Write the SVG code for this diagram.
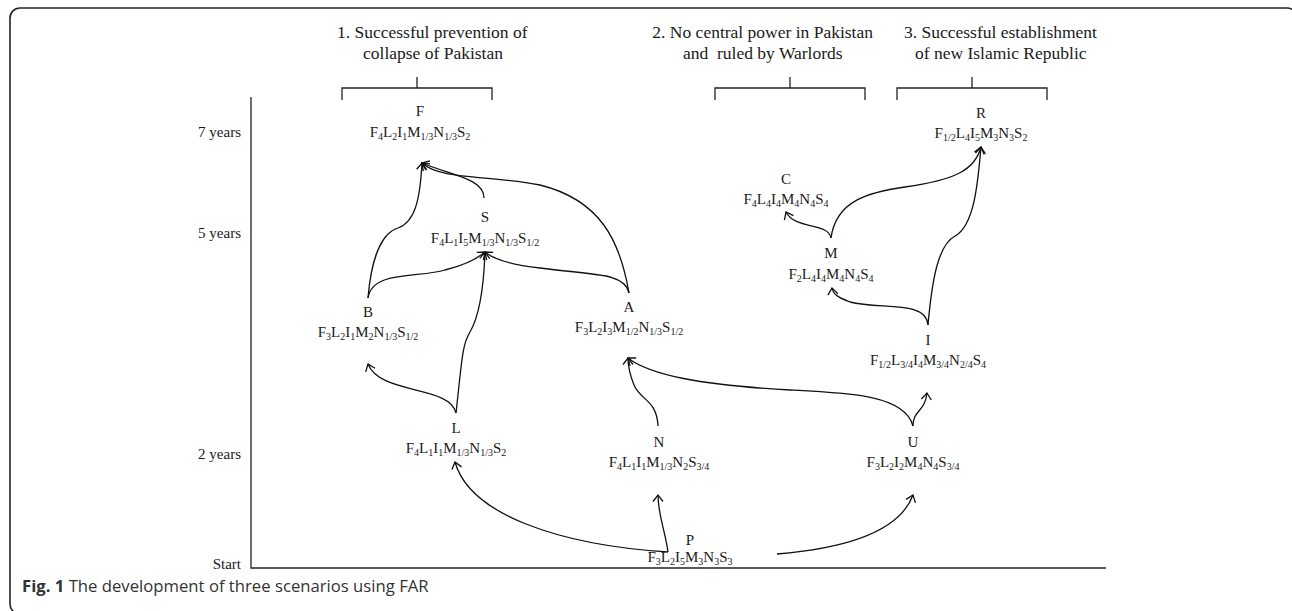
<svg xmlns="http://www.w3.org/2000/svg" width="1292" height="611" viewBox="0 0 1292 611">
<defs>
<marker id="ah" markerUnits="userSpaceOnUse" markerWidth="14" markerHeight="14" refX="0" refY="0" viewBox="-8 -7 10 14" orient="auto">
<path d="M -6.5 -5 L 0 0 L -6.5 5" fill="none" stroke="#111" stroke-width="1.3"/>
</marker>
</defs>
<style>
.h,.y,.n,.f{font-family:"Liberation Serif","Times New Roman",serif;fill:#1a1a1a;}
.h{font-size:17.5px;}
.y{font-size:15px;text-anchor:end;}
.n{font-size:15px;text-anchor:middle;}
.f{font-size:15px;text-anchor:middle;}
.s{font-size:10px;}
.br{fill:none;stroke:#222;stroke-width:1.3;}
.c{fill:none;stroke:#111;stroke-width:1.3;marker-end:url(#ah);}
.cap{font-family:"Open Sans","Noto Sans",sans-serif;font-size:16.7px;fill:#333;}
</style>
<rect x="10" y="8" width="1287" height="606" rx="10" fill="none" stroke="#222" stroke-width="1.6"/>
<g id="axes" class="br">
<path d="M251 97 V568 H1106"/>
</g>
<g id="headers">
<text class="h" x="337" y="38">1. Successful prevention of</text>
<text class="h" x="363" y="59">collapse of Pakistan</text>
<path class="br" d="M342 100 V88 H492 V100 M417 77 V88"/>
<text class="h" x="873" y="38" text-anchor="end">2. No central power in Pakistan</text>
<text class="h" x="683" y="59">and&#160; ruled by Warlords</text>
<path class="br" d="M715 100 V88 H865 V100 M790 77 V88"/>
<text class="h" x="904" y="38">3. Successful establishment</text>
<text class="h" x="915" y="59">of new Islamic Republic</text>
<path class="br" d="M897 100 V88 H1047 V100 M972 77 V88"/>
</g>
<g id="ylabels">
<text class="y" x="241" y="137">7 years</text>
<text class="y" x="241" y="238">5 years</text>
<text class="y" x="241" y="459">2 years</text>
<text class="y" x="241" y="569">Start</text>
</g>
<g id="node-F"><text class="n" x="420" y="116">F</text><text class="f" x="420" y="137">F<tspan class="s" dy="3">4</tspan><tspan dy="-3">L</tspan><tspan class="s" dy="3">2</tspan><tspan dy="-3">I</tspan><tspan class="s" dy="3">1</tspan><tspan dy="-3">M</tspan><tspan class="s" dy="3">1/3</tspan><tspan dy="-3">N</tspan><tspan class="s" dy="3">1/3</tspan><tspan dy="-3">S</tspan><tspan class="s" dy="3">2</tspan></text></g>
<g id="node-S"><text class="n" x="485" y="222">S</text><text class="f" x="485" y="243">F<tspan class="s" dy="3">4</tspan><tspan dy="-3">L</tspan><tspan class="s" dy="3">1</tspan><tspan dy="-3">I</tspan><tspan class="s" dy="3">5</tspan><tspan dy="-3">M</tspan><tspan class="s" dy="3">1/3</tspan><tspan dy="-3">N</tspan><tspan class="s" dy="3">1/3</tspan><tspan dy="-3">S</tspan><tspan class="s" dy="3">1/2</tspan></text></g>
<g id="node-B"><text class="n" x="368" y="317">B</text><text class="f" x="368" y="337">F<tspan class="s" dy="3">3</tspan><tspan dy="-3">L</tspan><tspan class="s" dy="3">2</tspan><tspan dy="-3">I</tspan><tspan class="s" dy="3">1</tspan><tspan dy="-3">M</tspan><tspan class="s" dy="3">2</tspan><tspan dy="-3">N</tspan><tspan class="s" dy="3">1/3</tspan><tspan dy="-3">S</tspan><tspan class="s" dy="3">1/2</tspan></text></g>
<g id="node-A"><text class="n" x="629" y="312">A</text><text class="f" x="629" y="332">F<tspan class="s" dy="3">3</tspan><tspan dy="-3">L</tspan><tspan class="s" dy="3">2</tspan><tspan dy="-3">I</tspan><tspan class="s" dy="3">3</tspan><tspan dy="-3">M</tspan><tspan class="s" dy="3">1/2</tspan><tspan dy="-3">N</tspan><tspan class="s" dy="3">1/3</tspan><tspan dy="-3">S</tspan><tspan class="s" dy="3">1/2</tspan></text></g>
<g id="node-L"><text class="n" x="456" y="433">L</text><text class="f" x="456" y="453">F<tspan class="s" dy="3">4</tspan><tspan dy="-3">L</tspan><tspan class="s" dy="3">1</tspan><tspan dy="-3">I</tspan><tspan class="s" dy="3">1</tspan><tspan dy="-3">M</tspan><tspan class="s" dy="3">1/3</tspan><tspan dy="-3">N</tspan><tspan class="s" dy="3">1/3</tspan><tspan dy="-3">S</tspan><tspan class="s" dy="3">2</tspan></text></g>
<g id="node-N"><text class="n" x="659" y="447">N</text><text class="f" x="659" y="467">F<tspan class="s" dy="3">4</tspan><tspan dy="-3">L</tspan><tspan class="s" dy="3">1</tspan><tspan dy="-3">I</tspan><tspan class="s" dy="3">1</tspan><tspan dy="-3">M</tspan><tspan class="s" dy="3">1/3</tspan><tspan dy="-3">N</tspan><tspan class="s" dy="3">2</tspan><tspan dy="-3">S</tspan><tspan class="s" dy="3">3/4</tspan></text></g>
<g id="node-U"><text class="n" x="913" y="447">U</text><text class="f" x="913" y="467">F<tspan class="s" dy="3">3</tspan><tspan dy="-3">L</tspan><tspan class="s" dy="3">2</tspan><tspan dy="-3">I</tspan><tspan class="s" dy="3">2</tspan><tspan dy="-3">M</tspan><tspan class="s" dy="3">4</tspan><tspan dy="-3">N</tspan><tspan class="s" dy="3">4</tspan><tspan dy="-3">S</tspan><tspan class="s" dy="3">3/4</tspan></text></g>
<g id="node-P"><text class="n" x="690" y="545">P</text><text class="f" x="690" y="562">F<tspan class="s" dy="3">3</tspan><tspan dy="-3">L</tspan><tspan class="s" dy="3">2</tspan><tspan dy="-3">I</tspan><tspan class="s" dy="3">5</tspan><tspan dy="-3">M</tspan><tspan class="s" dy="3">3</tspan><tspan dy="-3">N</tspan><tspan class="s" dy="3">3</tspan><tspan dy="-3">S</tspan><tspan class="s" dy="3">3</tspan></text></g>
<g id="node-C"><text class="n" x="786" y="184">C</text><text class="f" x="786" y="204">F<tspan class="s" dy="3">4</tspan><tspan dy="-3">L</tspan><tspan class="s" dy="3">4</tspan><tspan dy="-3">I</tspan><tspan class="s" dy="3">4</tspan><tspan dy="-3">M</tspan><tspan class="s" dy="3">4</tspan><tspan dy="-3">N</tspan><tspan class="s" dy="3">4</tspan><tspan dy="-3">S</tspan><tspan class="s" dy="3">4</tspan></text></g>
<g id="node-M"><text class="n" x="831" y="258">M</text><text class="f" x="831" y="279">F<tspan class="s" dy="3">2</tspan><tspan dy="-3">L</tspan><tspan class="s" dy="3">4</tspan><tspan dy="-3">I</tspan><tspan class="s" dy="3">4</tspan><tspan dy="-3">M</tspan><tspan class="s" dy="3">4</tspan><tspan dy="-3">N</tspan><tspan class="s" dy="3">4</tspan><tspan dy="-3">S</tspan><tspan class="s" dy="3">4</tspan></text></g>
<g id="node-R"><text class="n" x="981" y="118">R</text><text class="f" x="981" y="138">F<tspan class="s" dy="3">1/2</tspan><tspan dy="-3">L</tspan><tspan class="s" dy="3">4</tspan><tspan dy="-3">I</tspan><tspan class="s" dy="3">5</tspan><tspan dy="-3">M</tspan><tspan class="s" dy="3">3</tspan><tspan dy="-3">N</tspan><tspan class="s" dy="3">3</tspan><tspan dy="-3">S</tspan><tspan class="s" dy="3">2</tspan></text></g>
<g id="node-I"><text class="n" x="928" y="345">I</text><text class="f" x="928" y="365">F<tspan class="s" dy="3">1/2</tspan><tspan dy="-3">L</tspan><tspan class="s" dy="3">3/4</tspan><tspan dy="-3">I</tspan><tspan class="s" dy="3">4</tspan><tspan dy="-3">M</tspan><tspan class="s" dy="3">3/4</tspan><tspan dy="-3">N</tspan><tspan class="s" dy="3">2/4</tspan><tspan dy="-3">S</tspan><tspan class="s" dy="3">4</tspan></text></g>
<g id="connectors">
<path class="c" d="M668 552 C560 545 470 515 455 462"/>
<path class="c" d="M668 552 C665 530 658 515 658 495"/>
<path class="c" d="M777 554 C850 548 900 530 913 495"/>
<path class="c" d="M456 413 C450 385 380 395 368 364"/>
<path class="c" d="M456 413 C462 360 462 345 470 332 C480 315 484 280 485 252"/>
<path class="c" d="M368 298 C372 270 420 278 445 270 C465 265 478 258 485 252"/>
<path class="c" d="M368 298 C372 250 385 232 398 228 C415 222 420 200 422 163"/>
<path class="c" d="M484 198 C484 178 450 175 422 163"/>
<path class="c" d="M629 293 C620 240 600 200 540 185 C490 175 440 180 422 163"/>
<path class="c" d="M629 293 C625 272 590 275 540 268 C505 264 492 258 485 252"/>
<path class="c" d="M658 426 C657 400 640 400 634 385 C630 375 628 365 628 358"/>
<path class="c" d="M913 426 C905 395 850 393 790 390 C700 385 650 375 628 358"/>
<path class="c" d="M913 426 C913 410 925 412 927 393"/>
<path class="c" d="M928 325 C926 300 880 310 850 302 C840 298 833 295 832 288"/>
<path class="c" d="M928 325 C932 280 938 245 955 236 C975 225 978 180 981 147"/>
<path class="c" d="M831 238 C828 222 795 230 786 212"/>
<path class="c" d="M831 238 C836 200 870 192 905 187 C955 180 975 170 981 147"/>
</g>
<text class="cap" x="22" y="592"><tspan font-weight="bold">Fig. 1</tspan> The development of three scenarios using FAR</text>
</svg>
